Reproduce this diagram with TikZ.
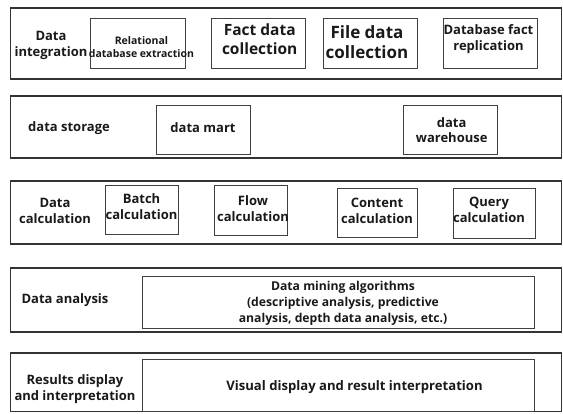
\documentclass[tikz,border=0pt]{standalone}
\usepackage{fontspec}
\setmainfont{Open Sans}
\usetikzlibrary{calc}
\newcommand{\layer}[2] % top y, bottom y (in px)
{
	% draw layer frame
	\draw[frame] (10.5,#1) rectangle (561.5,#2);
}
\newcommand{\fs}[2]{\fontsize{#1}{#2}\selectfont\bfseries}

\begin{document}
\begin{tikzpicture}[x=1pt, y=-1pt,
	frame/.style={draw=black!80, line width=1.2pt},
	cell/.style={draw=black!75, line width=0.9pt, inner sep=0pt},
	txt/.style={align=center, inner sep=0pt, text=black!90}]
	% 563px x 413px, y runs downwards
	\useasboundingbox (0,0) rectangle (563,413);
	\layer{8}{79};
	\layer{96}{158};
	\layer{181}{244};
	\layer{268}{332};
	\layer{353}{411.5};
	
	% data integration
	\node[txt, font=\fs{13}{16}] (integ) at (51,45) {Data\\integration};
	\node[cell, minimum width=95, minimum height=50] (relbox) at (137.5,43) {};
	\node[cell, minimum width=94, minimum height=50] (factbox) at (258,43) {};
	\node[cell, minimum width=94, minimum height=50] (filebox) at (370,43) {};
	\node[cell, minimum width=94, minimum height=50] (dbbox) at (490,43) {};
	\node[txt, font=\fs{10.5}{12.5}] (rel) at (141.5,47) {Relational\\database extraction};
	\node[txt, font=\fs{15.5}{19}] (fact) at (259.7,39.5) {Fact data\\collection};
	\node[txt, font=\fs{17}{20}] (file) at (367,41.7) {File data\\collection};
	\node[txt, font=\fs{13}{15.5}] (db) at (488.5,39) {Database fact\\replication};
	
	% data storage
	\node[txt, font=\fs{13}{16}] (storage) at (69,128) {data storage};
	\node[cell, minimum width=94, minimum height=49] (martbox) at (203,129.5) {};
	\node[cell, minimum width=94, minimum height=49] (whbox) at (450,129.5) {};
	\node[txt, font=\fs{13}{16}] (mart) at (203,127.3) {data mart};
	\node[txt, font=\fs{13}{15}] (wh) at (451.7,130) {data\\warehouse};
	
	% data calculation
	\node[txt, font=\fs{13}{16}] (calc) at (55,211) {Data\\calculation};
	\node[cell, minimum width=73, minimum height=49] (batchbox) at (141.5,209.5) {};
	\node[cell, minimum width=73, minimum height=50] (flowbox) at (250.5,210) {};
	\node[cell, minimum width=80, minimum height=49] (contbox) at (377,212.5) {};
	\node[cell, minimum width=82, minimum height=50] (querybox) at (494,213) {};
	\node[txt, font=\fs{13}{16}] (batch) at (141.5,207) {Batch\\calculation};
	\node[txt, font=\fs{13}{16}] (flow) at (253,209) {Flow\\calculation};
	\node[txt, font=\fs{13}{16}] (cont) at (377,210.7) {Content\\calculation};
	\node[txt, font=\fs{13}{16}] (query) at (489,209.5) {Query\\calculation};
	
	% data analysis
	\node[txt, font=\fs{13}{16}] (analysis) at (65,300) {Data analysis};
	\node[cell, minimum width=392, minimum height=52] (minebox) at (338,302) {};
	\node[txt, font=\fs{12.2}{16}] (mine) at (343,303) {Data mining algorithms\\(descriptive analysis, predictive\\analysis, depth data analysis, etc.)};
	
	% results display
	\node[txt, font=\fs{13}{16}] (results) at (75,389) {Results display\\and interpretation};
	\node[cell, minimum width=392, minimum height=52] (visbox) at (338,385) {};
	\node[txt, font=\fs{13.1}{16}] (vis) at (354.5,387) {Visual display and result interpretation};
	
\end{tikzpicture}
\end{document}
